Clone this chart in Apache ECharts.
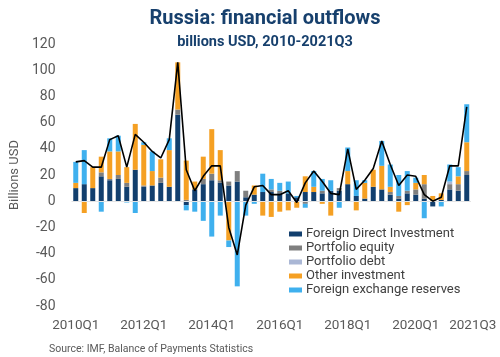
<!DOCTYPE html>
<html>
<head>
<meta charset="utf-8">
<script src="https://cdn.jsdelivr.net/npm/echarts@6/dist/echarts.min.js"></script>
<style>
html,body{margin:0;padding:0;background:#fff;}
#c{width:500px;height:357px;}
</style>
</head>
<body>
<div id="c"></div>
<script>
const categories = ['2010Q1','2010Q2','2010Q3','2010Q4','2011Q1','2011Q2','2011Q3','2011Q4',
 '2012Q1','2012Q2','2012Q3','2012Q4','2013Q1','2013Q2','2013Q3','2013Q4',
 '2014Q1','2014Q2','2014Q3','2014Q4','2015Q1','2015Q2','2015Q3','2015Q4',
 '2016Q1','2016Q2','2016Q3','2016Q4','2017Q1','2017Q2','2017Q3','2017Q4',
 '2018Q1','2018Q2','2018Q3','2018Q4','2019Q1','2019Q2','2019Q3','2019Q4',
 '2020Q1','2020Q2','2020Q3','2020Q4','2021Q1','2021Q2','2021Q3'];
const fdi = [10,13,10,19,16,17,11,24, 11,12,14,11,66,-3,9,13, 16,14,12,15,3,5,7,7, 6,6,3,7,7,6,8,8, 13,4,2,11,9,5,2,6, 5,2,-4,1,9,8,20];
const portfolioEquity = [0,0,0,3,1,3,3,0, 1,0,4,0,4,1,0,4, 5,2,3,8,5,0,0,2, 2,0,0,-2,0,2,0,2, 0,0,0,0,0,2,2,2, 4,11,0,0,4,5,3];
const portfolioDebt = [0,0,0,0,0,0,0,0, 0,0,0,0,0,0,0,0, 0,0,0,0,0,0,0,0, 0,0,0,0,0,0,0,0, 0,0,0,0,0,0,0,0, 0,0,0,0,2,0,0];
const otherInvestment = [4,-9,16,12,21,18,12,35, 31,11,14,28,36,30,6,17, 34,23,-30,0,0,7,-11,-12, -8,-7,-5,12,4,-2,-11,0, 10,-7,12,13,18,4,-8,-3, 5,7,4,5,0,6,22];
const fxReserves = [16,26,0,-8,10,12,-1,-9, 2,15,0,9,0,-4,-8,-15, -27,-11,-5,-65,-11,-2,14,8, 6,9,1,-3,12,9,8,-5, 18,12,2,0,19,17,16,15, 4,-13,0,-4,13,7,29];
const total = [30,31,26,26,47,50,26,51, 45,38,33,47,106,24,8,19, 27,27,-20,-41,-3,11,12,5, 5,8,-1,14,23,15,6,5, 40,9,16,25,46,28,12,20, 19,5,0,3,27,27,72];
const yTicks = [-80,-60,-40,-20,0,20,40,60,80,100,120];

const seriesNames = ['Foreign Direct Investment','Portfolio equity','Portfolio debt','Other investment','Foreign exchange reserves'];
const seriesData = [fdi, portfolioEquity, portfolioDebt, otherInvestment, fxReserves];
const colors = ['#123f6e','#7f7f7f','#aab7d5','#f5a023','#3fb0ee'];

const chart = echarts.init(document.getElementById('c'), null, {renderer:'canvas'});
const barSeries = seriesNames.map((n,k)=>({
  name:n, type:'bar', stack:'s', data:seriesData[k], barWidth:5,
  itemStyle:{color:colors[k]}, emphasis:{disabled:true}
}));
barSeries[0].markLine = {silent:true, symbol:'none', label:{show:false},
  lineStyle:{color:'#e3e3e3', width:1, type:'solid'}, data:[{yAxis:0}]};

chart.setOption({
  animation:false,
  textStyle:{fontFamily:'Roboto'},
  title:[
    {text:'Russia: financial outflows', left:260, top:4, textAlign:'center',
     textStyle:{fontFamily:'Roboto', fontWeight:'bold', fontSize:20, color:'#17406d'}},
    {text:'billions USD, 2010-2021Q3', left:260, top:30, textAlign:'center',
     textStyle:{fontFamily:'Roboto', fontWeight:'bold', fontSize:14.5, color:'#17406d'}},
    {text:'Source: IMF, Balance of Payments Statistics', left:44, top:339,
     textStyle:{fontFamily:'Roboto', fontWeight:'normal', fontSize:10.5, color:'#595959'}}
  ],
  legend:{
    orient:'vertical', left:289, top:227, itemWidth:13, itemHeight:5, itemGap:0, padding:0,
    icon:'rect', data:seriesNames,
    textStyle:{fontFamily:'Roboto', fontSize:13, color:'#404040', lineHeight:14, padding:[0,0,0,-1]}
  },
  grid:{left:61, right:29, top:44, bottom:51, containLabel:false},
  xAxis:{
    type:'category', data:categories, boundaryGap:true,
    axisLine:{show:false}, axisTick:{show:false},
    axisLabel:{
      interval:(i)=> i%8===0 || i===categories.length-1,
      color:'#595959', fontFamily:'Roboto', fontSize:13.5, margin:13,
      formatter:(v,i)=> i===categories.length-1 ? '{r|'+v+'}' : v,
      rich:{r:{color:'#595959', fontFamily:'Roboto', fontSize:13.5, padding:[0,0,0,12]}}
    }
  },
  yAxis:{
    type:'value', min:yTicks[0], max:yTicks[yTicks.length-1], interval:20,
    name:'Billions USD', nameLocation:'middle', nameGap:45,
    nameTextStyle:{color:'#595959', fontFamily:'Roboto', fontSize:13},
    axisLine:{show:false}, axisTick:{show:false}, splitLine:{show:false},
    axisLabel:{color:'#595959', fontFamily:'Roboto', fontSize:14, margin:16}
  },
  series:[...barSeries, {
    name:'Total', type:'line', data:total, symbol:'none',
    lineStyle:{color:'#000', width:1.6}, itemStyle:{color:'#000'}, z:5,
    emphasis:{disabled:true}
  }]
});
</script>
</body>
</html>
